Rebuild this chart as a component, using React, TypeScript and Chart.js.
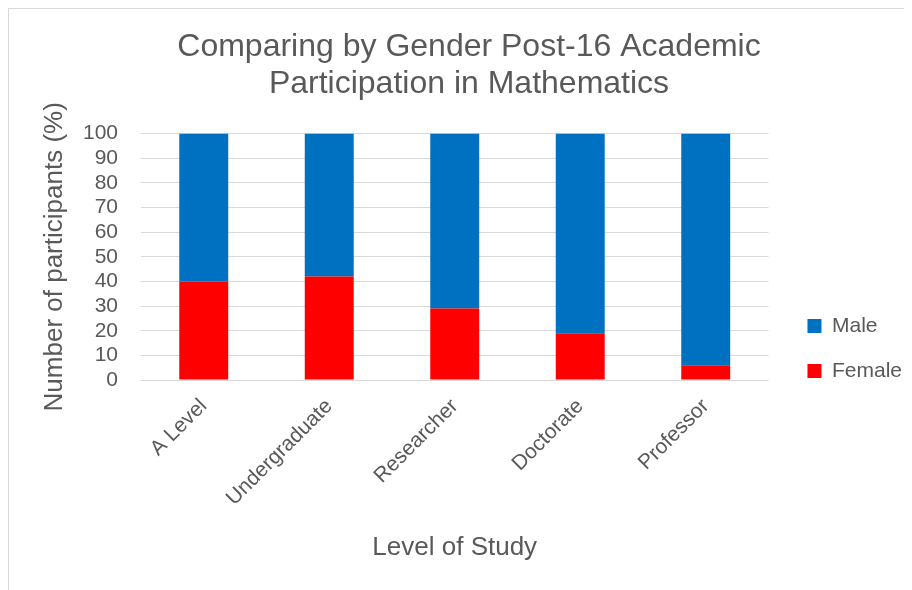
import React, { useEffect, useRef } from "react";
import { Chart, registerables } from "chart.js";

Chart.register(...registerables);

const categories = ["A Level", "Undergraduate", "Researcher", "Doctorate", "Professor"];
const femaleValues = [40, 42, 29, 19, 6];
const maleValues = [60, 58, 71, 81, 94];
const titleLines = ["Comparing by Gender Post-16 Academic", "Participation in Mathematics"];
const xTitle = "Level of Study";
const yTitle = "Number of participants (%)";

const FONT = "'Liberation Sans', Arial, sans-serif";
const TEXT = "#595959";
const GRID = "#d9d9d9";

export default function App() {
  const ref = useRef<HTMLCanvasElement>(null);

  useEffect(() => {
    document.body.style.overflow = "hidden";
    const chart = new Chart(ref.current!, {
      type: "bar",
      data: {
        labels: categories,
        datasets: [
          {
            label: "Female",
            data: femaleValues,
            backgroundColor: "#FF0000",
            borderWidth: 0,
            barPercentage: 0.39,
            categoryPercentage: 1,
          },
          {
            label: "Male",
            data: maleValues,
            backgroundColor: "#0070C0",
            borderWidth: 0,
            barPercentage: 0.39,
            categoryPercentage: 1,
          },
        ],
      },
      options: {
        responsive: false,
        animation: false,
        layout: { padding: { left: 17, right: 0, top: 0, bottom: 0 } },
        plugins: {
          tooltip: { enabled: false },
          title: {
            display: true,
            text: titleLines,
            color: TEXT,
            font: { family: FONT, size: 32, weight: "normal", lineHeight: 1.15 },
            padding: { top: 20, bottom: 31 },
          },
          legend: {
            position: "right",
            reverse: true,
            title: {
              display: true,
              text: " ",
              font: { family: FONT, size: 10, lineHeight: 1.2 },
              padding: 43,
            },
            labels: {
              color: TEXT,
              font: { family: FONT, size: 21 },
              boxWidth: 14,
              boxHeight: 14,
              padding: 24,
            },
          },
        },
        scales: {
          x: {
            stacked: true,
            grid: { display: false },
            border: { display: false },
            ticks: {
              color: TEXT,
              font: { family: FONT, size: 21 },
              minRotation: 45,
              maxRotation: 45,
              autoSkip: false,
              padding: 6,
            },
            title: {
              display: true,
              text: xTitle,
              color: TEXT,
              font: { family: FONT, size: 26 },
              padding: { top: 0, bottom: 27 },
            },
            afterFit: (s: any) => {
              s.height = 210;
            },
          },
          y: {
            stacked: true,
            min: 0,
            max: 100,
            grid: { color: GRID, lineWidth: 1, drawTicks: false },
            border: { display: false },
            ticks: {
              stepSize: 10,
              autoSkip: false,
              color: TEXT,
              font: { family: FONT, size: 21 },
              padding: 23,
            },
            title: {
              display: true,
              text: yTitle,
              color: TEXT,
              font: { family: FONT, size: 26 },
              padding: { top: 13, bottom: 0 },
            },
            afterFit: (s: any) => {
              s.width = 115;
            },
          },
          gap: {
            type: "linear",
            position: "right",
            display: true,
            grid: { display: false },
            border: { display: false },
            ticks: { display: false },
            afterFit: (s: any) => {
              s.width = 15;
            },
          },
        },
      },
    });
    return () => chart.destroy();
  }, []);

  return (
    <div
      style={{
        width: 904,
        height: 582,
        borderLeft: "1px solid #d9d9d9",
        borderTop: "1px solid #d9d9d9",
        boxSizing: "border-box",
        background: "#fff",
      }}
    >
      <canvas ref={ref} width={903} height={581} style={{ display: "block" }} />
    </div>
  );
}
